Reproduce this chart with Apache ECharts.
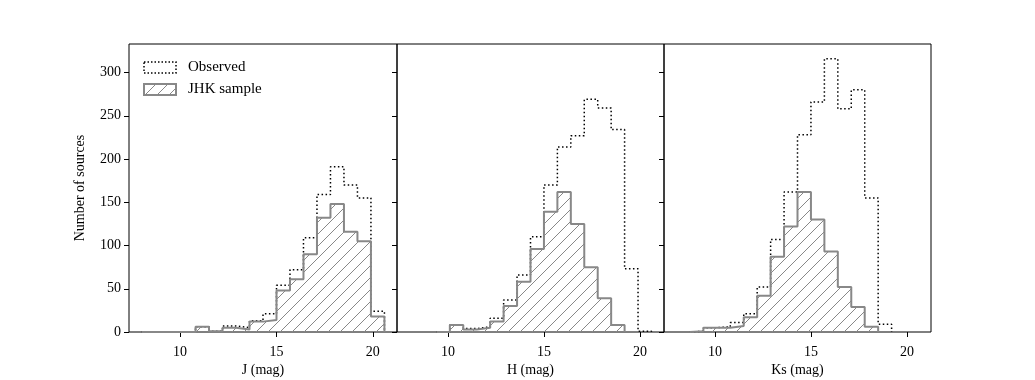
<!DOCTYPE html>
<html>
<head>
<meta charset="utf-8">
<script src="https://cdn.jsdelivr.net/npm/echarts@6/dist/echarts.min.js"></script>
<style>
  html, body { margin: 0; background: #fff; }
  #chart { width: 1035px; height: 380px; }
</style>
</head>
<body>
<div id="chart"></div>
<script>
// histogram bins (mag), 0.7 wide
const binEdges = [8.0, 8.7, 9.4, 10.1, 10.8, 11.5, 12.2, 12.9, 13.6, 14.3, 15.0, 15.7, 16.4, 17.1, 17.8, 18.5, 19.2, 19.9, 20.6];
const bandNames = ["J (mag)", "H (mag)", "Ks (mag)"];

// counts per bin (null = outside the drawn histogram)
const jObserved = [0, 0, 0, 0, 6, 1, 7, 5, 13, 21, 54, 72, 109, 159, 191, 170, 155, 24];
const jSample = [0, 0, 0, 0, 6, 1, 5, 3, 12, 14, 48, 61, 90, 132, 148, 116, 105, 18];
const hObserved = [null, null, 0, 8, 4, 6, 16, 37, 66, 110, 170, 214, 227, 269, 259, 234, 73, 1];
const hSample = [null, null, 0, 8, 3, 5, 12, 30, 58, 96, 139, 162, 125, 75, 39, 8, null, null];
const ksObserved = [null, 1, 5, 6, 11, 21, 52, 107, 162, 228, 266, 316, 258, 280, 155, 9, null, null];
const ksSample = [null, 1, 5, 5, 7, 17, 42, 87, 122, 162, 130, 93, 52, 29, 6, null, null, null];

const xTicks = [10, 15, 20];
const yTicks = [0, 50, 100, 150, 200, 250, 300];

const observedSets = [jObserved, hObserved, ksObserved];
const sampleSets = [jSample, hSample, ksSample];

const FONT = "Liberation Serif";
const GRAY = "#888";

// turn bin counts into a step outline like hist(histtype='step')
function stepPoints(vals) {
  const pts = [];
  vals.forEach((v, i) => {
    if (v == null) return;
    if (!pts.length) pts.push([binEdges[i], 0]);
    pts.push([binEdges[i], v], [binEdges[i + 1], v]);
  });
  const last = pts[pts.length - 1];
  pts.push([last[0], 0]);
  return pts;
}

function hatchCanvas() {
  const c = document.createElement("canvas");
  c.width = 12;
  c.height = 12;
  const g = c.getContext("2d");
  g.strokeStyle = GRAY;
  g.lineWidth = 1;
  g.beginPath();
  g.moveTo(-1, 13); g.lineTo(13, -1);
  g.moveTo(-1, 1); g.lineTo(1, -1);
  g.moveTo(11, 13); g.lineTo(13, 11);
  g.stroke();
  return c;
}
const hatch = { image: hatchCanvas(), repeat: "repeat" };

const panelLeft = [129, 397, 664];
const panelWidth = [268, 267, 267];

const grids = [], xAxes = [], yAxes = [], series = [];
for (let i = 0; i < 3; i++) {
  grids.push({
    left: panelLeft[i], top: 44, width: panelWidth[i], height: 288,
    outerBoundsMode: "none",
    show: true, borderColor: "#000", borderWidth: 1, backgroundColor: "transparent"
  });
  xAxes.push({
    type: "value", gridIndex: i, min: 7.348, max: 21.252,
    name: bandNames[i], nameLocation: "middle", nameGap: 31, nameMoveOverlap: false,
    nameTextStyle: { fontFamily: FONT, fontSize: 14, color: "#000" },
    axisLine: { show: false },
    axisTick: { show: true, length: 5, customValues: xTicks, lineStyle: { color: "#000" } },
    axisLabel: { customValues: xTicks, margin: 13, fontFamily: FONT, fontSize: 14, color: "#000" },
    splitLine: { show: false }
  });
  yAxes.push({
    type: "value", gridIndex: i, min: 0, max: 333,
    name: i === 0 ? "Number of sources" : "", nameLocation: "middle", nameGap: 42,
    nameTextStyle: { fontFamily: FONT, fontSize: 14, color: "#000" },
    axisLine: { show: false },
    axisTick: { show: true, length: 5, customValues: yTicks, lineStyle: { color: "#000" } },
    axisLabel: { show: i === 0, customValues: yTicks, margin: 8, fontFamily: FONT, fontSize: 14, color: "#000" },
    splitLine: { show: false }
  });
  series.push({
    name: "Observed", type: "line", xAxisIndex: i, yAxisIndex: i,
    data: stepPoints(observedSets[i]), symbol: "none", z: 2,
    lineStyle: { color: "#000", width: 1.5, type: [1.5, 2.5] },
    itemStyle: { color: "#000" }
  });
  series.push({
    name: "JHK sample", type: "line", xAxisIndex: i, yAxisIndex: i,
    data: stepPoints(sampleSets[i]), symbol: "none", z: 3,
    lineStyle: { color: GRAY, width: 2 },
    itemStyle: { color: GRAY },
    areaStyle: { color: hatch, opacity: 1 }
  });
}

const chart = echarts.init(document.getElementById("chart"));
chart.setOption({
  animation: false,
  backgroundColor: "#fff",
  legend: {
    left: 143, top: 60, orient: "vertical", padding: 0,
    itemWidth: 32, itemHeight: 11, itemGap: 7,
    textStyle: { fontFamily: FONT, fontSize: 15, color: "#000", padding: [0, 0, 0, 7] },
    data: [
      { name: "Observed", icon: "rect",
        itemStyle: { color: "#fff", borderColor: "#000", borderWidth: 1.5, borderType: [1.5, 2] } },
      { name: "JHK sample", icon: "rect",
        itemStyle: { color: hatch, borderColor: GRAY, borderWidth: 2 } }
    ]
  },
  grid: grids,
  xAxis: xAxes,
  yAxis: yAxes,
  series: series
});
</script>
</body>
</html>
